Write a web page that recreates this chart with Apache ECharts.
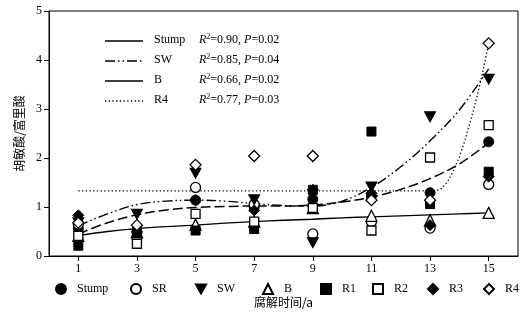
<!DOCTYPE html>
<html><head><meta charset="utf-8">
<script src="https://cdn.jsdelivr.net/npm/echarts@6/dist/echarts.min.js"></script>
<style>html,body{margin:0;padding:0;background:#fff}#c{width:525px;height:316px}</style>
</head><body><div id="c"></div>
<script>
// ---- data ----
const years = [1, 3, 5, 7, 9, 11, 13, 15];
const stump = [0.56, 0.49, 1.14, 1.00, 1.16, 1.22, 1.29, 2.33];
const sr    = [0.65, 0.37, 1.40, 1.05, 0.45, 0.70, 0.57, 1.46];
const sw    = [0.68, 0.85, 1.69, 1.15, 0.27, 1.41, 2.84, 3.61];
const bVals = [0.41, 0.49, 0.64, 0.70, 0.98, 0.82, 0.73, 0.88];
const r1    = [0.21, 0.49, 0.52, 0.55, 1.35, 2.54, 1.06, 1.72];
const r2    = [0.41, 0.25, 0.86, 0.70, 0.98, 0.52, 2.01, 2.67];
const r3    = [0.83, 0.49, 1.14, 0.93, 1.35, 1.28, 0.63, 1.62];
const r4    = [0.68, 0.63, 1.86, 2.04, 2.04, 1.14, 1.14, 4.34];

// fitted curves
const fitX     = [1, 2, 3, 4, 5, 6, 7, 8, 9, 10, 11, 12, 13, 14, 15];
const stumpFit = [0.45, 0.68, 0.84, 0.94, 0.99, 1.01, 1.02, 1.02, 1.04, 1.10, 1.20, 1.36, 1.58, 1.88, 2.31];
const swFit    = [0.62, 0.86, 1.05, 1.12, 1.14, 1.12, 1.07, 1.03, 1.02, 1.12, 1.40, 1.82, 2.35, 2.98, 3.82];
const bFit     = [0.42, 0.50, 0.56, 0.60, 0.63, 0.67, 0.70, 0.73, 0.75, 0.78, 0.80, 0.82, 0.84, 0.86, 0.88];
const r4FitX   = [1, 13.2, 13.4, 13.6, 13.8, 14.0, 14.2, 14.4, 14.6, 14.8, 15];
const r4Fit    = [1.33, 1.33, 1.38, 1.52, 1.74, 2.02, 2.38, 2.80, 3.25, 3.76, 4.34];

const xTicks = [1, 3, 5, 7, 9, 11, 13, 15];
const seriesNames = ['Stump', 'SR', 'SW', 'B', 'R1', 'R2', 'R3', 'R4'];
const fitNames = ['Stump', 'SW', 'B', 'R4'];
const fitStats = [['0.90', '0.02'], ['0.85', '0.04'], ['0.66', '0.02'], ['0.77', '0.03']];
const xName = '腐解时间/a';
const yName = '胡敏酸/富里酸';

// ---- build ----
const SERIF = '"Liberation Serif","DejaVu Serif",serif';
const CJK = '"Noto Sans CJK SC",sans-serif';
const pairs = (xs, ys) => xs.map((x, i) => [x, ys[i]]);
const filled = { color: '#000', borderColor: '#000', borderWidth: 1, opacity: 1 };
const open = { color: '#fff', borderColor: '#000', borderWidth: 1.3, opacity: 1 };
const DOWN_TRI = 'path://M0,0L10,0L5,9Z';

const scatterDefs = [
  { v: stump, symbol: 'circle', size: 10, style: filled },
  { v: sr, symbol: 'circle', size: 10, style: open },
  { v: sw, symbol: DOWN_TRI, size: [11, 10], style: filled },
  { v: bVals, symbol: 'triangle', size: 11, style: open },
  { v: r1, symbol: 'rect', size: 9, style: filled },
  { v: r2, symbol: 'rect', size: 9, style: open },
  { v: r3, symbol: 'diamond', size: 11, style: filled },
  { v: r4, symbol: 'diamond', size: 11, style: open }
];

const series = [];
const lineBase = { type: 'line', symbol: 'none', silent: true, z: 2, smooth: 0.35 };
series.push(Object.assign({}, lineBase, { name: 'fitStump', data: pairs(fitX, stumpFit),
  lineStyle: { color: '#000', width: 1.5, type: [10, 4] } }));
series.push(Object.assign({}, lineBase, { name: 'fitSW', data: pairs(fitX, swFit),
  lineStyle: { color: '#000', width: 1.4, type: [10, 3, 1.5, 3, 1.5, 3] } }));
series.push(Object.assign({}, lineBase, { name: 'fitB', data: pairs(fitX, bFit),
  lineStyle: { color: '#000', width: 1.3 } }));
series.push(Object.assign({}, lineBase, { name: 'fitR4', data: pairs(r4FitX, r4Fit), smooth: false,
  lineStyle: { color: '#000', width: 1.3, type: [1.3, 2.4] } }));

scatterDefs.forEach((d, i) => {
  series.push({
    type: 'scatter', name: seriesNames[i], z: 3,
    symbol: d.symbol, symbolSize: d.size,
    itemStyle: d.style, emphasis: { disabled: true }, data: pairs(years, d.v)
  });
});

const legendCenters = [60, 135, 200, 267, 325, 377, 432, 488];
const legends = seriesNames.map((n, i) => ({
  data: [n], left: legendCenters[i] - 5, top: 283, padding: 0,
  itemWidth: 10, itemHeight: 10, itemGap: 0, selectedMode: false,
  itemStyle: { opacity: 1 },
  textStyle: { fontFamily: SERIF, fontSize: 12, color: '#000', padding: [0, 0, 0, 6] }
}));

const dashes = [null, [10, 3, 1.5, 3, 1.5, 3], null, [1.3, 2.4]];
const graphic = [];
fitNames.forEach((n, i) => {
  const y = 41 + i * 20;
  graphic.push({ type: 'line', shape: { x1: 105, y1: y, x2: 143, y2: y },
    style: { stroke: '#000', lineWidth: 1.4, lineDash: dashes[i] } });
  graphic.push({ type: 'text', left: 154, top: y - 7,
    style: { text: n, font: '12px ' + SERIF, fill: '#000' } });
  graphic.push({ type: 'text', left: 199, top: y - 8,
    style: {
      text: '{i|R}{s|2}{n|=' + fitStats[i][0] + ', }{i|P}{n|=' + fitStats[i][1] + '}',
      rich: {
        i: { fontFamily: SERIF, fontSize: 12, fontStyle: 'italic', color: '#000' },
        s: { fontFamily: SERIF, fontSize: 8, padding: [0, 0, 6, 0], color: '#000' },
        n: { fontFamily: SERIF, fontSize: 12, color: '#000' }
      }
    } });
});

const axisLine = { show: true, lineStyle: { color: '#000', width: 1 } };
const option = {
  animation: false,
  backgroundColor: '#fff',
  grid: { left: 49, right: 7, top: 11, bottom: 60, show: true, borderColor: '#000', borderWidth: 1, backgroundColor: 'transparent' },
  legend: legends,
  graphic: graphic,
  xAxis: {
    type: 'value', min: 0, max: 16, interval: 1,
    name: xName, nameLocation: 'middle', nameGap: 40,
    nameTextStyle: { fontFamily: CJK, fontSize: 12, color: '#000' },
    axisLine: axisLine,
    axisTick: { show: true, inside: false, length: 5, customValues: xTicks, lineStyle: { color: '#000' } },
    axisLabel: { customValues: xTicks, fontFamily: SERIF, fontSize: 12, color: '#000', margin: 7 },
    splitLine: { show: false }
  },
  yAxis: {
    type: 'value', min: 0, max: 5, interval: 1,
    name: yName, nameLocation: 'middle', nameGap: 20,
    nameTextStyle: { fontFamily: CJK, fontSize: 12, color: '#000' },
    axisLine: axisLine,
    axisTick: { show: true, inside: false, length: 5, lineStyle: { color: '#000' } },
    axisLabel: { fontFamily: SERIF, fontSize: 12, color: '#000', margin: 7 },
    splitLine: { show: false }
  },
  series: series
};
const chart = echarts.init(document.getElementById('c'), null, { renderer: 'canvas' });
chart.setOption(option);
</script></body></html>
